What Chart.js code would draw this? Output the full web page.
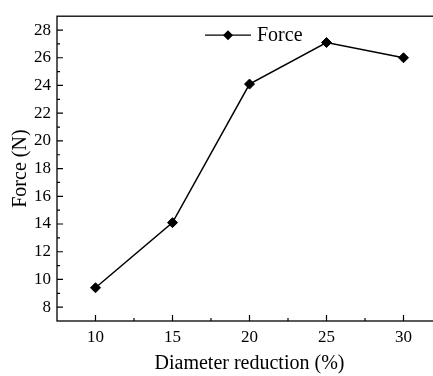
<!DOCTYPE html>
<html>
<head>
<meta charset="utf-8">
<script src="https://cdn.jsdelivr.net/npm/chart.js@4"></script>
<style>
  html, body { margin: 0; padding: 0; background: #fff; overflow: hidden; }
  /* the original figure is cropped on the right, so the canvas runs past the window */
  #wrap { width: 448px; height: 376px; }
</style>
</head>
<body>
<div id="wrap"><canvas id="chart"></canvas></div>
<script>
// values
const reduction = [10, 15, 20, 25, 30];
const force = [9.4, 14.1, 24.1, 27.1, 26.0];
const xTicks = [10, 15, 20, 25, 30];
const xMinor = [12.5, 17.5, 22.5, 27.5];
const yTicks = [8, 10, 12, 14, 16, 18, 20, 22, 24, 26, 28];
const yMinor = [9, 11, 13, 15, 17, 19, 21, 23, 25, 27];

const serif = "'Liberation Serif', 'Times New Roman', serif";

// frame, inward ticks and the legend inside the plot
const framePlugin = {
  id: "frame",
  afterDatasetsDraw(chart) {
    const { ctx, chartArea: a, scales } = chart;
    const x = scales.x, y = scales.y;
    ctx.save();
    ctx.strokeStyle = "#000";
    ctx.lineWidth = 1.3;
    ctx.strokeRect(a.left, a.top, a.right - a.left, a.bottom - a.top);
    ctx.lineWidth = 1.2;
    ctx.beginPath();
    xTicks.forEach(v => {
      const px = x.getPixelForValue(v);
      ctx.moveTo(px, a.bottom); ctx.lineTo(px, a.bottom - 6);
    });
    xMinor.forEach(v => {
      const px = x.getPixelForValue(v);
      ctx.moveTo(px, a.bottom); ctx.lineTo(px, a.bottom - 3);
    });
    yTicks.forEach(v => {
      const py = y.getPixelForValue(v);
      ctx.moveTo(a.left, py); ctx.lineTo(a.left + 6, py);
    });
    yMinor.forEach(v => {
      const py = y.getPixelForValue(v);
      ctx.moveTo(a.left, py); ctx.lineTo(a.left + 3, py);
    });
    ctx.stroke();

    // legend
    const ds = chart.data.datasets[0];
    const ly = a.top + 19, lx = 205;
    ctx.lineWidth = 1.3;
    ctx.beginPath();
    ctx.moveTo(lx, ly); ctx.lineTo(lx + 46, ly);
    ctx.stroke();
    ctx.fillStyle = "#000";
    ctx.beginPath();
    ctx.moveTo(lx + 23, ly - 5);
    ctx.lineTo(lx + 28, ly);
    ctx.lineTo(lx + 23, ly + 5);
    ctx.lineTo(lx + 18, ly);
    ctx.closePath();
    ctx.fill();
    ctx.font = "20px " + serif;
    ctx.textBaseline = "middle";
    ctx.fillText(ds.label, lx + 52, ly + 1);
    ctx.restore();
  },
};

new Chart(document.getElementById("chart"), {
  type: "line",
  data: {
    datasets: [
      {
        label: "Force",
        data: reduction.map((v, i) => ({ x: v, y: force[i] })),
        borderColor: "#000",
        backgroundColor: "#000",
        borderWidth: 1.5,
        pointStyle: "rectRot",
        pointRadius: 5,
        pointBorderWidth: 1,
        tension: 0,
      },
    ],
  },
  options: {
    responsive: true,
    maintainAspectRatio: false,
    animation: false,
    layout: { padding: { top: 11, right: 1, left: 0, bottom: 0 } },
    plugins: { legend: { display: false }, tooltip: { enabled: false } },
    scales: {
      x: {
        type: "linear",
        min: 7.5,
        max: 32.5,
        afterBuildTicks: s => { s.ticks = xTicks.map(v => ({ value: v })); },
        afterFit: s => { s.height = 55; s.paddingLeft = 0; s.paddingRight = 0; },
        grid: { display: false, drawTicks: false },
        border: { display: false },
        ticks: { color: "#000", padding: 6, font: { family: serif, size: 17 } },
        title: {
          display: true,
          text: "Diameter reduction (%)",
          color: "#000",
          padding: { top: 1, bottom: 0 },
          font: { family: serif, size: 20 },
        },
      },
      y: {
        min: 7,
        max: 29,
        afterBuildTicks: s => { s.ticks = yTicks.map(v => ({ value: v })); },
        afterFit: s => { s.width = 57; },
        grid: { display: false, drawTicks: false },
        border: { display: false },
        ticks: { color: "#000", padding: 6, font: { family: serif, size: 17 } },
        title: {
          display: true,
          text: "Force (N)",
          color: "#000",
          padding: { top: 9, bottom: 0 },
          font: { family: serif, size: 20 },
        },
      },
    },
  },
  plugins: [framePlugin],
});
</script>
</body>
</html>
